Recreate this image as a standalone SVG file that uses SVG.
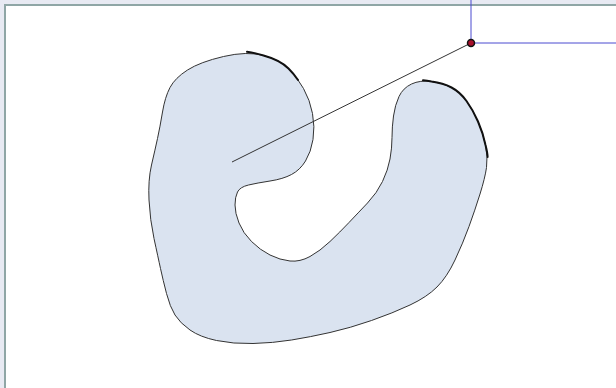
<svg xmlns="http://www.w3.org/2000/svg" width="616" height="388" viewBox="0 0 616 388">
<style>
.frame{fill:#ffffff;stroke:#8fa6a6;stroke-width:2}
.blob{fill:#dae3f0;stroke:#333;stroke-width:1;stroke-linejoin:round}
.thick{fill:none;stroke:#111;stroke-width:2;stroke-linecap:round}
.ray{stroke:#333;stroke-width:1;fill:none}
.axis{stroke:#4a4ad0;stroke-width:1;fill:none}
.pt{fill:#a8102c;stroke:#111;stroke-width:1.5}
</style>
<rect x="0" y="0" width="616" height="388" fill="#e8eaf3"/>
<rect class="frame" x="5" y="5" width="640" height="420"/>
<g id="blob">
<path class="blob" d="M223.5,56.5 Q247,51 263.5,55.5 Q280,60 288.5,68.5 Q297,77 303.5,88.5 Q310,100 312.5,113.5 Q315,127 313,139.5 Q311,152 305.5,161 Q300,170 291.5,174.5 Q283,179 270,181 Q257,183 248.5,185 Q240,187 237.5,192 Q235,197 235,205 Q235,213 239,223 Q243,233 251.5,241.5 Q260,250 270,255 Q280,260 290,261 Q300,262 310,256.5 Q320,251 330,241.5 Q340,232 349,222.5 Q358,213 367.5,203 Q377,193 382.5,181.5 Q388,170 390,159 Q392,148 392,137.5 Q392,127 393.5,116 Q395,105 399,96.5 Q403,88 411.5,84 Q420,80 431.5,81.5 Q443,83 451.5,87.5 Q460,92 466.5,101 Q473,110 478,121.5 Q483,133 485.5,145 Q488,157 486.5,167.5 Q485,178 480,194 Q475,210 469,226.5 Q463,243 455,260 Q447,277 437,287 Q427,297 410,305 Q393,313 371.5,320.5 Q350,328 330,332.5 Q310,337 291.5,340 Q273,343 253,343.5 Q233,344 216.5,340.5 Q200,337 190,330 Q180,323 175,315 Q170,307 166.5,293.5 Q163,280 160.5,268.5 Q158,257 154,238.5 Q150,220 149,200 Q148,180 151.5,165 Q155,150 157.5,138.5 Q160,127 162.5,112 Q165,97 170,87.5 Q175,78 187.5,70 Q200,62 223.5,56.5 Z"/>
<path class="thick" d="M247,51.8 Q255,53 263.5,55.5 Q280,60 288.5,68.5 Q294,74 298,80"/>
<path class="thick" d="M423,80.3 Q427,80.8 431.5,81.5 Q443,83 451.5,87.5 Q460,92 466.5,101 Q473,110 478,121.5 Q483,133 485.5,145 Q487.5,153 487.6,157"/>
</g>
<g id="connectors">
<line class="ray" x1="232" y1="162" x2="471" y2="43"/>
<line class="axis" x1="471" y1="0" x2="471" y2="43"/>
<line class="axis" x1="471" y1="43" x2="616" y2="43"/>
</g>
<g id="point">
<circle class="pt" cx="471" cy="43" r="3.5"/>
</g>
</svg>
